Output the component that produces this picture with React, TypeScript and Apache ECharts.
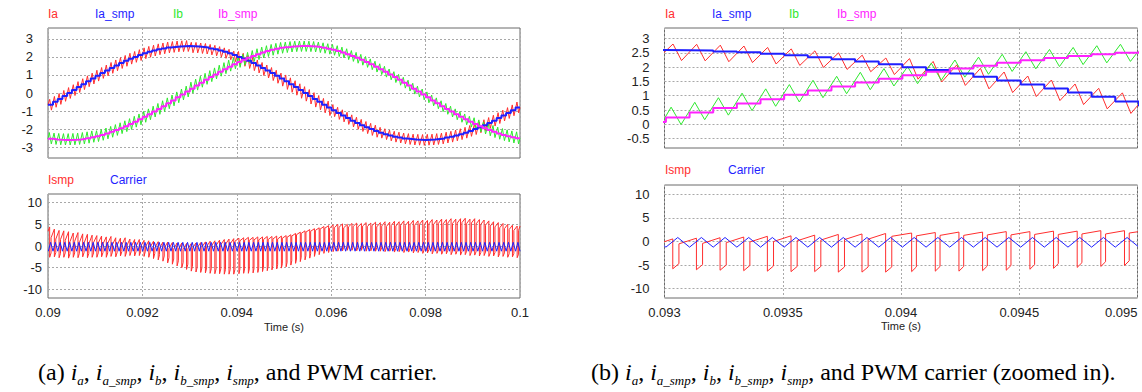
import React, { useEffect, useRef } from "react";
import * as echarts from "echarts";

// Time is kept in milliseconds; one PWM carrier period is 0.1 ms (10 kHz).
const T_START = 90;
const T_END = 100;
const PERIOD = 0.1;

// Sample-and-hold currents (A), one value per carrier period from 90.0 ms.
const iaSmp = [
  -0.65, -0.49, -0.33, -0.16, 0.0, 0.16, 0.33, 0.49, 0.65, 0.8,
  0.96, 1.11, 1.25, 1.39, 1.53, 1.66, 1.78, 1.9, 2.0, 2.1,
  2.2, 2.28, 2.35, 2.42, 2.47, 2.52, 2.55, 2.58, 2.59, 2.6,
  2.59, 2.58, 2.55, 2.52, 2.47, 2.42, 2.35, 2.28, 2.2, 2.1,
  2.0, 1.9, 1.78, 1.66, 1.53, 1.39, 1.25, 1.11, 0.96, 0.8,
  0.65, 0.49, 0.33, 0.16, 0.0, -0.16, -0.33, -0.49, -0.65, -0.8,
  -0.96, -1.11, -1.25, -1.39, -1.53, -1.66, -1.78, -1.9, -2.0, -2.1,
  -2.2, -2.28, -2.35, -2.42, -2.47, -2.52, -2.55, -2.58, -2.59, -2.6,
  -2.59, -2.58, -2.55, -2.52, -2.47, -2.42, -2.35, -2.28, -2.2, -2.1,
  -2.0, -1.9, -1.78, -1.66, -1.53, -1.39, -1.25, -1.11, -0.96, -0.8,
];
const ibSmp = [
  -2.54, -2.57, -2.59, -2.6, -2.6, -2.59, -2.57, -2.54, -2.5, -2.45,
  -2.39, -2.32, -2.24, -2.15, -2.05, -1.95, -1.84, -1.72, -1.59, -1.46,
  -1.32, -1.18, -1.03, -0.88, -0.73, -0.57, -0.41, -0.24, -0.08, 0.08,
  0.24, 0.41, 0.57, 0.73, 0.88, 1.03, 1.18, 1.32, 1.46, 1.59,
  1.72, 1.84, 1.95, 2.05, 2.15, 2.24, 2.32, 2.39, 2.45, 2.5,
  2.54, 2.57, 2.59, 2.6, 2.6, 2.59, 2.57, 2.54, 2.5, 2.45,
  2.39, 2.32, 2.24, 2.15, 2.05, 1.95, 1.84, 1.72, 1.59, 1.46,
  1.32, 1.18, 1.03, 0.88, 0.73, 0.57, 0.41, 0.24, 0.08, -0.08,
  -0.24, -0.41, -0.57, -0.73, -0.88, -1.03, -1.18, -1.32, -1.46, -1.59,
  -1.72, -1.84, -1.95, -2.05, -2.15, -2.24, -2.32, -2.39, -2.45, -2.5,
];

// Ripple of the measured currents around the sampled value, one entry per millisecond.
const iaRippleUp = [0.3, 0.3, 0.3, 0.22, 0.3, 0.35, 0.32, 0.3, 0.3, 0.3];
const iaRippleDown = [0.3, 0.3, 0.3, 0.36, 0.42, 0.45, 0.35, 0.3, 0.3, 0.3];
const ibRippleUp = [0.35, 0.3, 0.3, 0.36, 0.3, 0.28, 0.3, 0.3, 0.3, 0.35];
const ibRippleDown = [0.28, 0.3, 0.3, 0.25, 0.3, 0.3, 0.3, 0.3, 0.3, 0.32];
// Instants (ms into each period) of the ripple peak and valley.
const iaPeakAt = 0.036;
const iaValleyAt = 0.072;
const ibPeakAt = 0.028;
const ibValleyAt = 0.07;
const sampleAt = 0.006;

// Ismp: level just before the current pulse and the pulse floor, one value per period.
const ismpTop = [
  4.4, 3.9, 3.6, 3.5, 3.3, 3.0, 3.1, 2.8, 2.7, 2.5,
  2.4, 2.3, 2.1, 2.2, 1.9, 1.8, 1.9, 1.6, 1.5, 1.5,
  1.3, 1.2, 1.1, 1.0, 0.9, 0.9, 0.8, 0.7, 0.7, 0.6,
  0.55, 0.7, 0.8, 0.95, 1.1, 1.2, 1.35, 1.5, 1.6, 1.7,
  1.8, 1.9, 2.0, 2.0, 2.1, 2.1, 2.2, 2.2, 2.3, 2.3,
  2.4, 2.6, 2.9, 3.2, 3.5, 3.8, 4.0, 4.2, 4.5, 4.7,
  4.9, 5.0, 5.1, 5.0, 5.2, 5.3, 5.2, 5.4, 5.3, 5.5,
  5.4, 5.6, 5.5, 5.7, 5.6, 5.8, 5.7, 5.9, 5.8, 6.0,
  5.9, 6.1, 6.0, 6.2, 6.1, 6.3, 6.2, 6.3, 6.4, 6.2,
  6.3, 6.1, 6.0, 5.8, 5.6, 5.4, 5.2, 5.0, 4.8, 4.6,
];
const ismpBottom = [
  -2.6, -2.5, -2.7, -2.6, -2.8, -2.6, -2.7, -2.5, -2.7, -2.6,
  -2.6, -2.5, -2.6, -2.4, -2.5, -2.3, -2.4, -2.2, -2.3, -2.2,
  -2.4, -2.6, -2.9, -3.2, -3.5, -3.9, -4.2, -4.6, -5.0, -5.4,
  -5.8, -6.0, -6.1, -6.2, -6.3, -6.4, -6.4, -6.5, -6.5, -6.5,
  -6.4, -6.3, -6.3, -6.2, -6.1, -5.9, -5.7, -5.5, -5.3, -5.1,
  -4.8, -4.4, -4.0, -3.6, -3.2, -2.8, -2.4, -2.0, -1.7, -1.5,
  -1.3, -1.2, -1.1, -1.0, -1.0, -1.1, -1.0, -1.2, -1.1, -1.2,
  -1.2, -1.3, -1.2, -1.4, -1.3, -1.5, -1.4, -1.6, -1.5, -1.7,
  -1.6, -1.8, -1.7, -1.9, -1.8, -2.0, -1.9, -2.1, -2.0, -2.2,
  -2.1, -2.3, -2.2, -2.4, -2.3, -2.5, -2.4, -2.6, -2.5, -2.7,
];
// Per-millisecond shape of the Ismp waveform.
const ismpTopRise = [2.0, 1.6, 1.4, 1.2, 0.7, 0.6, 0.8, 1.0, 1.0, 1.0];
const ismpBottomRise = [1.0, 1.0, 1.2, 1.1, 1.0, 1.0, 0.8, 0.8, 0.8, 0.8];
const ismpPulseAt = [0.035, 0.035, 0.035, 0.035, 0.045, 0.045, 0.04, 0.04, 0.04, 0.04];
const ismpPulseWidth = [0.03, 0.03, 0.028, 0.026, 0.02, 0.02, 0.025, 0.03, 0.03, 0.03];

// Triangular PWM carrier (scaled)
const carrierLow = -1.2;
const carrierHigh = 0.85;
const carrierValleyAt = 0.006;
const carrierPeakAt = 0.056;

// Axis ticks
const leftTimeTicks = { min: 90, max: 100, interval: 2 };
const rightTimeTicks = { min: 93, max: 95, interval: 0.5 };
const phaseTicksLeft = [-3, -2, -1, 0, 1, 2, 3];
const phaseTicksRight = [-0.5, 0, 0.5, 1, 1.5, 2, 2.5, 3];
const ismpTicks = [-10, -5, 0, 5, 10];

const RED = "#ff2e2e";
const BLUE = "#1f1fff";
const GREEN = "#2fe82f";
const MAGENTA = "#ff22ff";
const SANS = "'Liberation Sans', Arial, sans-serif";
const SERIF = "'Liberation Serif', 'Times New Roman', serif";

type Pt = [number, number];
const tk = (k: number) => T_START + k * PERIOD;
const msIdx = (k: number) => Math.min(9, Math.floor(k / 10));

function stairs(samples: number[]): Pt[] {
  const pts: Pt[] = [[T_START, samples[0]]];
  samples.forEach((v, k) => pts.push([tk(k) + sampleAt, v]));
  pts.push([T_END, samples[samples.length - 1]]);
  return pts;
}

function rippled(samples: number[], up: number[], down: number[], peakAt: number, valleyAt: number): Pt[] {
  const pts: Pt[] = [[T_START, samples[0]]];
  samples.forEach((v, k) => {
    pts.push([tk(k) + peakAt, v + up[msIdx(k)]]);
    pts.push([tk(k) + valleyAt, v - down[msIdx(k)]]);
  });
  pts.push([T_END, samples[samples.length - 1]]);
  return pts;
}

function ismpWave(): Pt[] {
  const n = ismpTop.length;
  const pts: Pt[] = [[T_START, ismpTop[0] - ismpTopRise[0] * 0.5]];
  for (let k = 0; k < n; k++) {
    const m = msIdx(k);
    const drop = tk(k) + ismpPulseAt[m];
    const rise = drop + ismpPulseWidth[m];
    pts.push([drop, ismpTop[k]]);
    pts.push([drop, ismpBottom[k]]);
    pts.push([rise, ismpBottom[k] + ismpBottomRise[m]]);
    const next = k + 1 < n ? k + 1 : k;
    pts.push([rise, ismpTop[next] - ismpTopRise[msIdx(next)]]);
  }
  pts.push([T_END, ismpTop[n - 1]]);
  return pts;
}

function carrierWave(): Pt[] {
  const pts: Pt[] = [];
  for (let k = 0; k < ismpTop.length; k++) {
    pts.push([tk(k) + carrierValleyAt, carrierLow]);
    pts.push([tk(k) + carrierPeakAt, carrierHigh]);
  }
  pts.push([T_END, carrierLow]);
  return pts;
}

const fmtTime = (v: number) => String(+(v / 1000).toFixed(5));

const gridLine = { show: true, lineStyle: { color: "#a8a8a8", type: [2, 2] as number[], width: 1 } };
const labelStyle = { color: "#222", fontSize: 13, fontFamily: SANS };

function timeAxis(gridIndex: number, ticks: { min: number; max: number; interval: number }, labels: boolean, alignMax?: string) {
  return {
    type: "value",
    gridIndex,
    min: ticks.min,
    max: ticks.max,
    interval: ticks.interval,
    axisLine: { show: false },
    axisTick: { show: false },
    axisLabel: { show: labels, formatter: fmtTime, margin: 8, alignMaxLabel: alignMax, ...labelStyle },
    splitLine: gridLine,
  };
}

function valueAxis(gridIndex: number, min: number, max: number, ticks: number[], margin: number) {
  return {
    type: "value",
    gridIndex,
    min,
    max,
    axisLine: { show: false },
    axisTick: { show: false, customValues: ticks },
    axisLabel: { customValues: ticks, margin, ...labelStyle },
    splitLine: gridLine,
  };
}

function line(name: string, data: Pt[], color: string, width: number, axis: number, step?: string) {
  return {
    type: "line",
    name,
    data,
    xAxisIndex: axis,
    yAxisIndex: axis,
    showSymbol: false,
    symbol: "none",
    step: step || false,
    lineStyle: { color, width },
    itemStyle: { color },
    silent: true,
    clip: true,
  };
}

function legendText(x: number, y: number, text: string, color: string) {
  return {
    type: "text",
    x,
    y,
    silent: true,
    style: { text, fill: color, font: `12px ${SANS}`, verticalAlign: "middle", align: "left" },
  };
}

function caption(x: number, y: number, text: string) {
  return {
    type: "text",
    x,
    y,
    silent: true,
    style: {
      text,
      fill: "#000",
      fontSize: 24,
      fontFamily: SERIF,
      lineHeight: 30,
      verticalAlign: "middle",
      rich: {
        i: { fontStyle: "italic", fontSize: 24, fontFamily: SERIF, lineHeight: 30 },
        s: { fontStyle: "italic", fontSize: 13, fontFamily: SERIF, lineHeight: 15, verticalAlign: "bottom" },
      },
    },
  };
}

const currentList = "{i|i}{s|a}, {i|i}{s|a_smp}, {i|i}{s|b}, {i|i}{s|b_smp}, {i|i}{s|smp}";

function buildOption() {
  const ia = rippled(iaSmp, iaRippleUp, iaRippleDown, iaPeakAt, iaValleyAt);
  const ib = rippled(ibSmp, ibRippleUp, ibRippleDown, ibPeakAt, ibValleyAt);
  const iaS = stairs(iaSmp);
  const ibS = stairs(ibSmp);
  const ismp = ismpWave();
  const carrier = carrierWave();
  const gridBox = { show: true, borderColor: "#6a6a6a", borderWidth: 1, backgroundColor: "transparent", containLabel: false, outerBoundsMode: "none" };

  return {
    animation: false,
    backgroundColor: "#fff",
    grid: [
      { ...gridBox, left: 48, top: 28, width: 472, height: 130 },
      { ...gridBox, left: 48, top: 194, width: 472, height: 104 },
      { ...gridBox, left: 664.5, top: 28, width: 473, height: 120 },
      { ...gridBox, left: 664.5, top: 185, width: 473, height: 113 },
    ],
    xAxis: [
      timeAxis(0, leftTimeTicks, false),
      timeAxis(1, leftTimeTicks, true),
      timeAxis(2, rightTimeTicks, false),
      timeAxis(3, rightTimeTicks, true, "right"),
    ],
    yAxis: [
      valueAxis(0, -3.6, 3.6, phaseTicksLeft, 15),
      valueAxis(1, -12, 12, ismpTicks, 6),
      valueAxis(2, -0.83, 3.37, phaseTicksRight, 15),
      valueAxis(3, -12, 12, ismpTicks, 15),
    ],
    series: [
      line("Ia", ia, RED, 1, 0),
      line("Ib", ib, GREEN, 1, 0),
      line("Ia_smp", iaS, BLUE, 2, 0, "end"),
      line("Ib_smp", ibS, MAGENTA, 2, 0, "end"),
      line("Ismp", ismp, RED, 1, 1),
      line("Carrier", carrier, BLUE, 1, 1),
      line("Ia", ia, RED, 1, 2),
      line("Ib", ib, GREEN, 1, 2),
      line("Ia_smp", iaS, BLUE, 2, 2, "end"),
      line("Ib_smp", ibS, MAGENTA, 2, 2, "end"),
      line("Ismp", ismp, RED, 1, 3),
      line("Carrier", carrier, BLUE, 1, 3),
    ],
    graphic: {
      elements: [
        legendText(48, 14, "Ia", RED),
        legendText(95, 14, "Ia_smp", BLUE),
        legendText(173, 14, "Ib", GREEN),
        legendText(218, 14, "Ib_smp", MAGENTA),
        legendText(48, 180, "Ismp", RED),
        legendText(110, 180, "Carrier", BLUE),
        legendText(665, 14, "Ia", RED),
        legendText(712, 14, "Ia_smp", BLUE),
        legendText(789, 14, "Ib", GREEN),
        legendText(837, 14, "Ib_smp", MAGENTA),
        legendText(665, 170, "Ismp", RED),
        legendText(728, 170, "Carrier", BLUE),
        {
          type: "text", x: 284, y: 327, silent: true,
          style: { text: "Time (s)", fill: "#222", font: `11px ${SANS}`, align: "center", verticalAlign: "middle" },
        },
        {
          type: "text", x: 901, y: 326, silent: true,
          style: { text: "Time (s)", fill: "#222", font: `11px ${SANS}`, align: "center", verticalAlign: "middle" },
        },
        caption(38, 372, `(a) ${currentList}, and PWM carrier.`),
        caption(591, 372, `(b) ${currentList}, and PWM carrier (zoomed in).`),
      ],
    },
  };
}

export default function App() {
  const ref = useRef<HTMLDivElement>(null);
  useEffect(() => {
    document.body.style.margin = "0";
    const chart = echarts.init(ref.current!, null, { renderer: "svg" });
    chart.setOption(buildOption() as any);
    return () => chart.dispose();
  }, []);
  return <div ref={ref} style={{ width: 1142, height: 392, background: "#fff" }} />;
}
